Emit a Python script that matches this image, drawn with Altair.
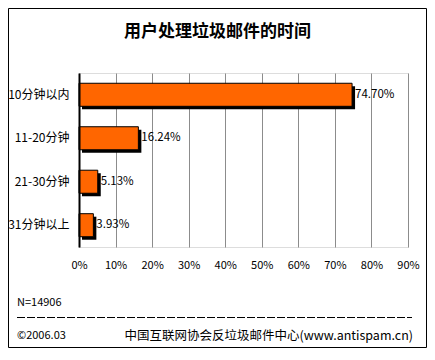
import altair as alt
import pandas as pd

categories = ["10分钟以内", "11-20分钟", "21-30分钟", "31分钟以上"]
values = [74.70, 16.24, 5.13, 3.93]
x_ticks = [0, 10, 20, 30, 40, 50, 60, 70, 80, 90]

title_text = "用户处理垃圾邮件的时间"
sample_text = "N=14906"
date_text = "©2006.03"
source_text = "中国互联网协会反垃圾邮件中心(www.antispam.cn)"

FONT = "SimSun, Noto Sans CJK SC"

df = pd.DataFrame({"cat": categories, "value": values})

base = alt.Chart(df).transform_calculate(
    label="format(datum.value, '.2f') + '%'"
)

y_enc = alt.Y(
    "cat:N",
    sort=categories,
    scale=alt.Scale(paddingInner=0.47, paddingOuter=0.236),
    axis=alt.Axis(
        title=None, ticks=False, labelPadding=10, labelFont=FONT,
        labelFontSize=12, labelColor="black", domainColor="black",
        domainWidth=2, zindex=1, grid=False,
    ),
)
x_enc = alt.X(
    "value:Q",
    scale=alt.Scale(domain=[0, 90], nice=False),
    axis=alt.Axis(
        title=None, values=x_ticks, tickCount=10, ticks=False, labelPadding=12,
        labelExpr="datum.value + '%'", labelFont=FONT, labelFontSize=11,
        labelColor="black", domain=False, grid=True, gridColor="#8c8c8c",
        gridOpacity=1, labelFlush=False, labelOverlap=False,
    ),
)

shadow = base.mark_bar(
    color="black", xOffset=3, x2Offset=3, yOffset=3, y2Offset=3
).encode(x=x_enc, y=y_enc)

bars = base.mark_bar(
    color="#FF6600", stroke="black", strokeWidth=1
).encode(x=x_enc, y=y_enc)

labels = base.mark_text(
    align="left", baseline="middle", dx=3, font=FONT, fontSize=11.5, color="black"
).encode(x=x_enc, y=y_enc, text="label:N")

one = alt.Data(values=[{"a": 1}])

border = alt.Chart(one).mark_rect(
    fillOpacity=0, stroke="black", strokeWidth=1
).encode(
    x=alt.value(-70.5), x2=alt.value(347.5),
    y=alt.value(-64.5), y2=alt.value(274.5),
)

title = alt.Chart(one).mark_text(
    text=title_text, font=FONT, fontSize=17, fontWeight="bold",
    align="center", baseline="middle", color="black",
).encode(x=alt.value(138.5), y=alt.value(-41.5))

n_txt = alt.Chart(one).mark_text(
    text=sample_text, font=FONT, fontSize=11, align="left",
    baseline="middle", color="black",
).encode(x=alt.value(-62), y=alt.value(230))

dash = alt.Chart(one).mark_rule(
    color="black", strokeWidth=1, strokeDash=[8, 2]
).encode(x=alt.value(-62), x2=alt.value(333), y=alt.value(244.5))

date_txt = alt.Chart(one).mark_text(
    text=date_text, font=FONT, fontSize=11, align="left",
    baseline="middle", color="black",
).encode(x=alt.value(-62), y=alt.value(263))

src_txt = alt.Chart(one).mark_text(
    text=source_text, font=FONT, fontSize=12.5, align="right",
    baseline="middle", color="black",
).encode(x=alt.value(334), y=alt.value(263))

chart = alt.layer(
    shadow, bars, labels, border, title, n_txt, dash, date_txt, src_txt
).properties(
    width=329, height=174,
    autosize=alt.AutoSizeParams(type="none"),
    padding={"left": 71, "top": 65, "right": 19, "bottom": 101},
).configure_view(
    stroke="#8c8c8c", strokeWidth=1
).configure(background="white")

chart.save("out.html", embed_options={"renderer": "svg", "actions": False})
